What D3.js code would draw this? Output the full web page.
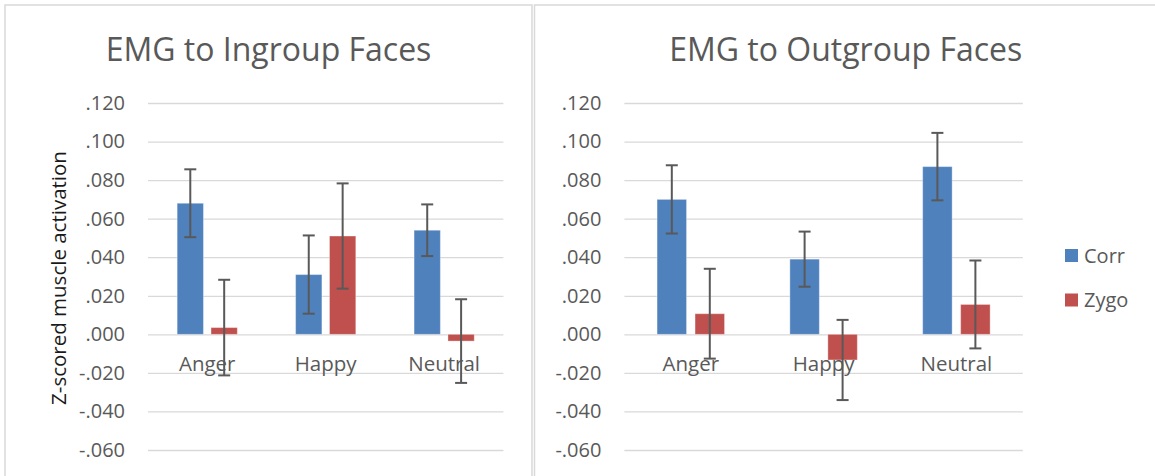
<!DOCTYPE html>
<html>
<head>
<meta charset="utf-8">
<script src="https://cdn.jsdelivr.net/npm/d3@7"></script>
<style>
  html, body { margin: 0; padding: 0; background: #fff; }
  svg { display: block; font-family: 'Open Sans', sans-serif; }
</style>
</head>
<body>
<div id="chart"></div>
<script>
const categories = ['Anger', 'Happy', 'Neutral'];
const seriesNames = ['Corr', 'Zygo'];
const yTicks = [-0.06, -0.04, -0.02, 0, 0.02, 0.04, 0.06, 0.08, 0.10, 0.12];

// ingroup faces
const ingroupCorr = [0.068, 0.031, 0.054];
const ingroupCorrErr = [0.0176, 0.0203, 0.0134];
const ingroupZygo = [0.0035, 0.051, -0.0035];
const ingroupZygoErr = [0.0248, 0.0273, 0.0217];

// outgroup faces
const outgroupCorr = [0.070, 0.039, 0.087];
const outgroupCorrErr = [0.0177, 0.0143, 0.0175];
const outgroupZygo = [0.0107, -0.0133, 0.0155];
const outgroupZygoErr = [0.0233, 0.0208, 0.0228];

const C = { corr: '#4f81bd', zygo: '#c0504d', grid: '#d9d9d9', text: '#595959', err: '#595959', frame: '#d9d9d9' };
const W = 1155, H = 476;

const svg = d3.select('#chart').append('svg')
  .attr('width', W).attr('height', H)
  .attr('viewBox', `0 0 ${W} ${H}`);

const y = d3.scaleLinear().domain([-0.06, 0.12]).range([450, 103]);
const fmt = d => d3.format('.3f')(d).replace('−', '-').replace('0.', '.');

function drawPanel(p) {
  const g = svg.append('g');

  g.append('rect')
    .attr('x', p.frame[0]).attr('y', 5)
    .attr('width', p.frame[1] - p.frame[0]).attr('height', H + 10)
    .attr('fill', '#fff')
    .attr('stroke', C.frame).attr('stroke-width', 1.5);

  g.append('text')
    .attr('x', (p.frame[0] + p.frame[1]) / 2).attr('y', 61)
    .attr('text-anchor', 'middle')
    .style('font-size', '32px')
    .style('fill', C.text)
    .text(p.title);

  const x0 = d3.scaleBand().domain(categories).range(p.plot);
  const x1 = d3.scaleBand().domain(seriesNames).range([0, x0.bandwidth()])
    .paddingInner(0.224).paddingOuter(0.86);

  // gridlines
  g.append('g')
    .attr('transform', `translate(${p.plot[0]},0)`)
    .call(d3.axisLeft(y).tickValues(yTicks).tickSize(-(p.plot[1] - p.plot[0])).tickFormat(''))
    .call(a => a.select('.domain').remove())
    .call(a => a.selectAll('line').attr('stroke', C.grid).attr('stroke-width', 1.3));

  // tick labels
  g.append('g')
    .attr('transform', `translate(${p.plot[0] - 23},0)`)
    .call(d3.axisLeft(y).tickValues(yTicks).tickSize(0).tickPadding(0).tickFormat(fmt))
    .call(a => a.select('.domain').remove())
    .call(a => a.selectAll('text')
      .style('font-size', '20px').style('font-family', "'Open Sans', sans-serif")
      .attr('fill', C.text));

  const rows = [];
  categories.forEach((c, i) => {
    rows.push({ c, s: 'Corr', v: p.corr[i], e: p.corrErr[i] });
    rows.push({ c, s: 'Zygo', v: p.zygo[i], e: p.zygoErr[i] });
  });

  g.selectAll('rect.bar')
    .data(rows)
    .enter().append('rect')
    .attr('class', 'bar')
    .attr('x', d => x0(d.c) + x1(d.s))
    .attr('width', x1.bandwidth())
    .attr('y', d => y(Math.max(0, d.v)))
    .attr('height', d => Math.abs(y(d.v) - y(0)))
    .attr('fill', d => d.s === 'Corr' ? C.corr : C.zygo)
    .attr('stroke', 'rgba(255,255,255,0.35)')
    .attr('stroke-width', 1);

  // category labels sit just under the zero line
  g.selectAll('text.cat')
    .data(categories)
    .enter().append('text')
    .attr('class', 'cat')
    .attr('x', d => x0(d) + x0.bandwidth() / 2)
    .attr('y', y(0) + 37)
    .attr('text-anchor', 'middle')
    .style('font-size', '20.5px')
    .style('fill', C.text)
    .text(d => d);

  // error bars
  const eb = g.selectAll('g.err')
    .data(rows)
    .enter().append('g')
    .attr('class', 'err')
    .attr('transform', d => `translate(${x0(d.c) + x1(d.s) + x1.bandwidth() / 2},0)`)
    .attr('stroke', C.err).attr('stroke-width', 2);
  eb.append('line')
    .attr('y1', d => y(d.v + d.e)).attr('y2', d => y(d.v - d.e));
  eb.append('line')
    .attr('x1', -6).attr('x2', 6)
    .attr('y1', d => y(d.v + d.e)).attr('y2', d => y(d.v + d.e));
  eb.append('line')
    .attr('x1', -6).attr('x2', 6)
    .attr('y1', d => y(d.v - d.e)).attr('y2', d => y(d.v - d.e));
}

drawPanel({
  title: 'EMG to Ingroup Faces',
  frame: [5, 532],
  plot: [148, 503.4],
  corr: ingroupCorr, corrErr: ingroupCorrErr,
  zygo: ingroupZygo, zygoErr: ingroupZygoErr
});

drawPanel({
  title: 'EMG to Outgroup Faces',
  frame: [534.5, 1157],
  plot: [624.4, 1022.8],
  corr: outgroupCorr, corrErr: outgroupCorrErr,
  zygo: outgroupZygo, zygoErr: outgroupZygoErr
});

// y axis title (left panel only)
svg.append('text')
  .attr('transform', 'translate(66,278) rotate(-90)')
  .attr('text-anchor', 'middle')
  .style('font-size', '20.5px')
  .style('fill', '#1a1a1a')
  .text('Z-scored muscle activation');

// legend
const legend = svg.append('g').attr('transform', 'translate(1065,249)');
const li = legend.selectAll('g')
  .data(seriesNames)
  .enter().append('g')
  .attr('transform', (d, i) => `translate(0,${i * 44.5})`);
li.append('rect')
  .attr('width', 13).attr('height', 13)
  .attr('fill', d => d === 'Corr' ? C.corr : C.zygo);
li.append('text')
  .attr('x', 19).attr('y', 6.5).attr('dy', '0.35em')
  .style('font-size', '20px')
  .style('fill', C.text)
  .text(d => d);
</script>
</body>
</html>
